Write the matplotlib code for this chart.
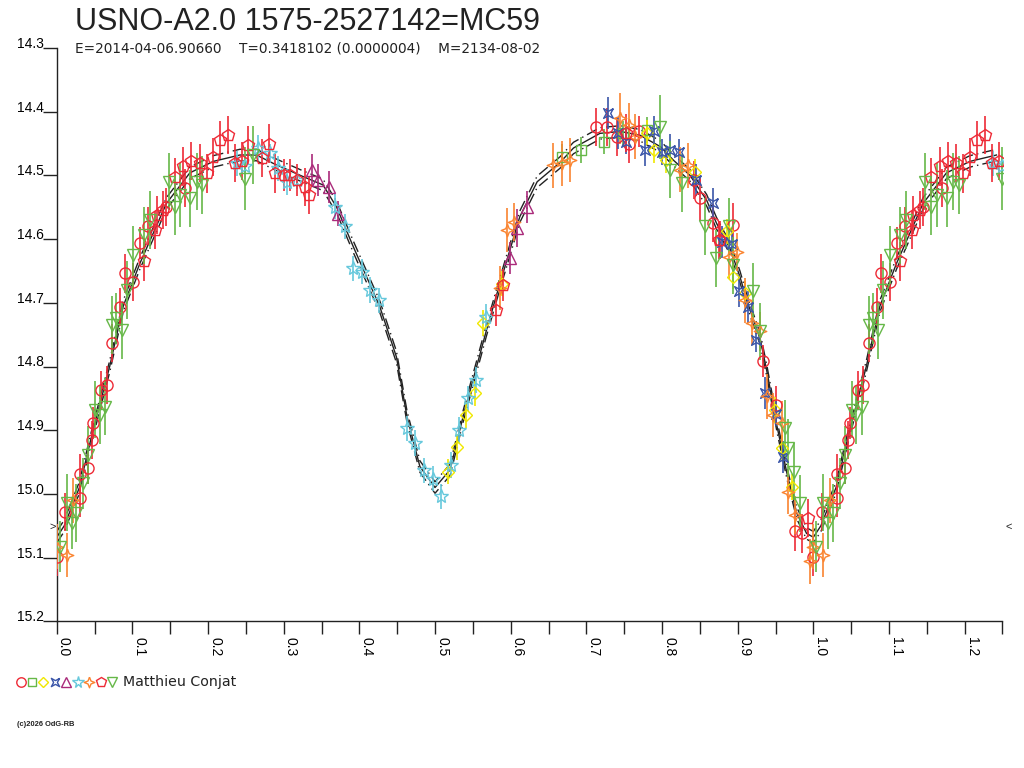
import numpy as np
import matplotlib.pyplot as plt
from matplotlib.path import Path
from matplotlib.lines import Line2D
from matplotlib.transforms import blended_transform_factory

plt.rcParams['font.family'] = ['Liberation Sans', 'DejaVu Sans']

title = 'USNO-A2.0 1575-2527142=MC59'
subtitle = 'E=2014-04-06.90660    T=0.3418102 (0.0000004)    M=2134-08-02'
observer = 'Matthieu Conjat'
credit = '(c)2026 OdG-RB'
lim_mag = 15.052

# model light curve (phase 0..1)
model_ph = [0.0, 0.01, 0.03, 0.045, 0.07, 0.088, 0.11, 0.145, 0.176, 0.207, 0.242,
            0.264, 0.286, 0.322, 0.352, 0.37, 0.392, 0.427, 0.449, 0.463, 0.48, 0.5,
            0.52, 0.537, 0.555, 0.568, 0.582, 0.595, 0.612, 0.635, 0.665, 0.683,
            0.718, 0.745, 0.771, 0.798, 0.815, 0.837, 0.859, 0.872, 0.89, 0.903,
            0.912, 0.93, 0.939, 0.952, 0.965, 0.978, 0.991, 1.0]
model_mag = [15.068, 15.05, 14.99, 14.915, 14.80, 14.705, 14.638, 14.544, 14.496, 14.478, 14.468,
             14.468, 14.481, 14.50, 14.515, 14.55, 14.612, 14.706, 14.785, 14.879, 14.957, 14.99,
             14.962, 14.879, 14.80, 14.743, 14.685, 14.633, 14.565, 14.51, 14.48, 14.457,
             14.434, 14.431, 14.437, 14.455, 14.476, 14.50, 14.539, 14.575, 14.615, 14.659,
             14.696, 14.758, 14.81, 14.894, 14.967, 15.03, 15.062, 15.068]
model_env = 0.009

# observations, one list per session
red_o_ph = [0.0, 0.011, 0.031, 0.031, 0.042, 0.046, 0.048, 0.059, 0.066, 0.073, 0.084, 0.090,
            0.101, 0.110, 0.121, 0.145, 0.170, 0.713, 0.727, 0.740, 0.756, 0.769, 0.842, 0.85,
            0.868, 0.876, 0.894, 0.933, 0.95, 0.976, 0.985]
red_o_mag = [15.099, 15.028, 15.007, 14.968, 14.96, 14.915, 14.889, 14.837, 14.829, 14.763, 14.706, 14.654,
             14.667, 14.606, 14.58, 14.549, 14.52, 14.424, 14.424, 14.439, 14.45, 14.431, 14.507, 14.536,
             14.575, 14.601, 14.578, 14.791, 14.86, 15.059, 15.062]
red_o_err = [0.03, 0.03, 0.03, 0.03, 0.025, 0.03, 0.025, 0.03, 0.03, 0.03, 0.03, 0.03,
             0.03, 0.025, 0.03, 0.03, 0.03, 0.03, 0.03, 0.03, 0.03, 0.025, 0.03, 0.035,
             0.03, 0.03, 0.035, 0.025, 0.03, 0.03, 0.03]

gsq_ph = [0.668, 0.693, 0.723, 0.748, 0.78]
gsq_mag = [14.471, 14.46, 14.447, 14.434, 14.429]
gsq_err = [0.02, 0.02, 0.02, 0.02, 0.02]

yel_ph = [0.517, 0.529, 0.541, 0.553, 0.563, 0.589, 0.78, 0.789, 0.805, 0.844, 0.886, 0.894,
          0.91, 0.949, 0.958, 0.972]
yel_mag = [14.965, 14.926, 14.876, 14.842, 14.732, 14.67, 14.433, 14.46, 14.476, 14.494, 14.588, 14.659,
           14.685, 14.868, 14.928, 14.989]
yel_err = [0.02, 0.02, 0.02, 0.02, 0.02, 0.02, 0.02, 0.02, 0.02, 0.02, 0.02, 0.02,
           0.02, 0.02, 0.02, 0.02]

blu_ph = [0.729, 0.742, 0.753, 0.778, 0.789, 0.80, 0.811, 0.822, 0.845, 0.868, 0.879, 0.892,
          0.902, 0.914, 0.924, 0.936, 0.95, 0.96]
blu_mag = [14.402, 14.434, 14.447, 14.46, 14.431, 14.463, 14.46, 14.463, 14.507, 14.544, 14.604, 14.607,
           14.681, 14.707, 14.758, 14.842, 14.874, 14.942]
blu_err = [0.025, 0.025, 0.02, 0.025, 0.025, 0.02, 0.025, 0.02, 0.025, 0.025, 0.025, 0.02,
           0.025, 0.025, 0.02, 0.025, 0.02, 0.025]

pur_ph = [0.337, 0.346, 0.360, 0.372, 0.599, 0.608, 0.621]
pur_mag = [14.492, 14.507, 14.518, 14.56, 14.63, 14.583, 14.549]
pur_err = [0.025, 0.025, 0.025, 0.02, 0.025, 0.03, 0.025]

cya_ph = [0.238, 0.249, 0.266, 0.282, 0.293, 0.304, 0.317, 0.368, 0.381, 0.392, 0.403, 0.414,
          0.426, 0.463, 0.474, 0.486, 0.497, 0.508, 0.521, 0.532, 0.543, 0.554, 0.568]
cya_mag = [14.481, 14.486, 14.457, 14.465, 14.489, 14.51, 14.507, 14.549, 14.58, 14.646, 14.651, 14.68,
           14.696, 14.897, 14.92, 14.963, 14.976, 15.004, 14.955, 14.90, 14.85, 14.821, 14.722]
cya_err = [0.02, 0.02, 0.02, 0.015, 0.02, 0.02, 0.015, 0.02, 0.02, 0.02, 0.02, 0.02,
           0.02, 0.02, 0.02, 0.02, 0.02, 0.02, 0.02, 0.02, 0.02, 0.02, 0.02]

ora_ph = [0.0, 0.013, 0.022, 0.586, 0.595, 0.605, 0.656, 0.668, 0.678, 0.745, 0.756, 0.764,
          0.824, 0.835, 0.889, 0.899, 0.91, 0.919, 0.93, 0.939, 0.947, 0.958, 0.967, 0.976, 0.996]
ora_mag = [15.083, 15.096, 15.01, 14.677, 14.586, 14.573, 14.484, 14.481, 14.476, 14.41, 14.421, 14.439,
           14.491, 14.484, 14.628, 14.62, 14.696, 14.732, 14.745, 14.847, 14.876, 14.889, 14.997, 15.033, 15.106]
ora_err = [0.035, 0.035, 0.035, 0.035, 0.035, 0.03, 0.035, 0.035, 0.035, 0.04, 0.035, 0.035,
           0.035, 0.035, 0.035, 0.03, 0.035, 0.035, 0.03, 0.035, 0.035, 0.035, 0.035, 0.03, 0.035]

red_p_ph = [0.115, 0.130, 0.132, 0.141, 0.156, 0.167, 0.178, 0.189, 0.198, 0.207, 0.216, 0.227,
            0.236, 0.245, 0.253, 0.271, 0.28, 0.289, 0.30, 0.308, 0.317, 0.328, 0.333, 0.580,
            0.590, 0.753, 0.875, 0.993]
red_p_mag = [14.635, 14.586, 14.562, 14.554, 14.502, 14.486, 14.478, 14.481, 14.497, 14.471, 14.444, 14.437,
             14.481, 14.478, 14.452, 14.473, 14.45, 14.497, 14.50, 14.50, 14.507, 14.518, 14.531, 14.711,
             14.672, 14.434, 14.601, 15.038]
red_p_err = [0.03, 0.03, 0.03, 0.03, 0.03, 0.03, 0.03, 0.03, 0.03, 0.03, 0.03, 0.03,
             0.03, 0.03, 0.03, 0.03, 0.03, 0.03, 0.025, 0.025, 0.025, 0.03, 0.03, 0.025,
             0.025, 0.03, 0.03, 0.03]

grt_ph = [0.004, 0.013, 0.02, 0.026, 0.035, 0.042, 0.051, 0.057, 0.064, 0.073, 0.079, 0.086,
          0.0925, 0.101, 0.115, 0.123, 0.148, 0.156, 0.163, 0.176, 0.185, 0.192, 0.249, 0.26,
          0.797, 0.811, 0.826, 0.857, 0.872, 0.888, 0.894, 0.92, 0.929, 0.962, 0.967, 0.975, 0.983]
grt_mag = [15.083, 15.014, 15.046, 15.03, 14.983, 14.939, 14.868, 14.876, 14.863, 14.735, 14.724, 14.743,
           14.68, 14.625, 14.594, 14.57, 14.51, 14.549, 14.531, 14.536, 14.51, 14.515, 14.505, 14.468,
           14.424, 14.491, 14.512, 14.58, 14.63, 14.58, 14.641, 14.682, 14.745, 14.897, 14.928, 14.965, 15.015]
grt_err = [0.04, 0.045, 0.04, 0.045, 0.04, 0.045, 0.045, 0.045, 0.045, 0.045, 0.04, 0.045,
           0.045, 0.045, 0.045, 0.045, 0.045, 0.045, 0.05, 0.045, 0.045, 0.045, 0.05, 0.045,
           0.05, 0.045, 0.045, 0.045, 0.045, 0.045, 0.045, 0.045, 0.045, 0.045, 0.045, 0.045, 0.045]

star4 = Path([(0, 1), (0.28, 0.28), (1, 0), (0.28, -0.28), (0, -1), (-0.28, -0.28),
              (-1, 0), (-0.28, 0.28), (0, 1)])
xstar = Path([(1, 1), (0, 0.45), (-1, 1), (-0.45, 0), (-1, -1), (0, -0.45),
              (1, -1), (0.45, 0), (1, 1)])

sessions = [
    (red_o_ph, red_o_mag, red_o_err, 'o', '#ee2a36', 8),
    (gsq_ph, gsq_mag, gsq_err, 's', '#66b848', 7),
    (yel_ph, yel_mag, yel_err, 'D', '#f0e800', 6),
    (blu_ph, blu_mag, blu_err, xstar, '#3a55a8', 7),
    (pur_ph, pur_mag, pur_err, '^', '#aa2a7a', 8),
    (cya_ph, cya_mag, cya_err, '*', '#66c8dc', 10),
    (ora_ph, ora_mag, ora_err, star4, '#fa8430', 9),
    (red_p_ph, red_p_mag, red_p_err, 'p', '#ee2a36', 9),
    (grt_ph, grt_mag, grt_err, 'v', '#66b848', 8),
]

fig = plt.figure(figsize=(10.24, 7.68), dpi=100)
ax = fig.add_axes([56.7 / 1024, 1 - 621.3 / 768, 945.8 / 1024, 573.3 / 768])

# model, repeated past phase 1
mp = np.array(model_ph)
mm = np.array(model_mag)
keep = mp < 0.26
mp2 = np.concatenate([mp, mp[keep][1:] + 1])
mm2 = np.concatenate([mm, mm[keep][1:]])
ax.plot(mp2, mm2, color='#222222', lw=1.0, zorder=3)
ax.plot(mp2, mm2 - model_env, color='#222222', lw=1.0, ls=(0, (8, 3, 1, 3)), zorder=3)
ax.plot(mp2, mm2 + model_env, color='#222222', lw=1.0, ls=(0, (8, 3, 1, 3)), zorder=3)

for ph, mag, err, mk, col, ms in sessions:
    ph = np.array(ph)
    mag = np.array(mag)
    err = np.array(err)
    w = ph < 0.25
    x = np.concatenate([ph, ph[w] + 1])
    y = np.concatenate([mag, mag[w]])
    e = np.concatenate([err, err[w]])
    ax.errorbar(x, y, yerr=e, fmt='none', ecolor=col, elinewidth=1.2, capsize=0, zorder=4)
    ax.plot(x, y, ls='none', marker=mk, ms=ms, mfc='none', mec=col, mew=1.0, zorder=5)

ax.set_xlim(0, 1.25)
ax.set_ylim(15.2, 14.3)
ax.set_xticks(np.arange(0, 1.25, 0.1))
ax.set_xticks(np.arange(0.05, 1.26, 0.1), minor=True)
ax.set_yticks(np.arange(14.3, 15.21, 0.1))
ax.set_xticklabels(['%.1f' % t for t in np.arange(0, 1.25, 0.1)])
ax.set_yticklabels(['%.1f' % t for t in np.arange(14.3, 15.21, 0.1)])
ax.spines['top'].set_visible(False)
ax.spines['right'].set_visible(False)
for s in ('left', 'bottom'):
    ax.spines[s].set_color('#222222')
    ax.spines[s].set_linewidth(1.0)
ax.tick_params(axis='x', which='both', direction='out', length=9, width=1, color='#222222', pad=2, labelsize=10)
ax.tick_params(axis='y', direction='out', length=10, width=1, color='#222222', pad=-1, labelsize=10)
for lab in ax.get_xticklabels():
    lab.set_rotation(-90)
    lab.set_ha('left')
    lab.set_va('top')
for lab in ax.get_yticklabels():
    lab.set_va('baseline')

tr = blended_transform_factory(ax.transAxes, ax.transData)
ax.text(-0.001, lim_mag, '>', transform=tr, ha='right', va='center', fontsize=8, color='#222222')
ax.text(1.003, lim_mag, '<', transform=tr, ha='left', va='center', fontsize=8, color='#222222')

fig.text(75 / 1024, 1 - 30 / 768, title, fontsize=22, color='#222222', va='baseline')
fig.text(75 / 1024, 1 - 48 / 768, subtitle, fontsize=9.8, color='#222222', va='center',
         family=['DejaVu Sans'])

# legend row
lx = [20.7, 32.3, 43.3, 55.0, 66.3, 77.7, 89.0, 100.7, 112.3]
for (ph, mag, err, mk, col, ms), px in zip(sessions, lx):
    fig.add_artist(Line2D([px / 1024], [1 - 681.7 / 768], transform=fig.transFigure,
                          marker=mk, ms=ms * 0.85, mfc='none', mec=col, mew=1.0, ls='none'))
fig.text(123 / 1024, 1 - 682 / 768, observer, fontsize=10.2, color='#222222', va='center',
         family=['DejaVu Sans'])
fig.text(17 / 1024, 1 - 725 / 768, credit, fontsize=5.4, color='#222222', va='center', weight='bold')

fig.savefig('out.png', dpi=100, facecolor='white')
